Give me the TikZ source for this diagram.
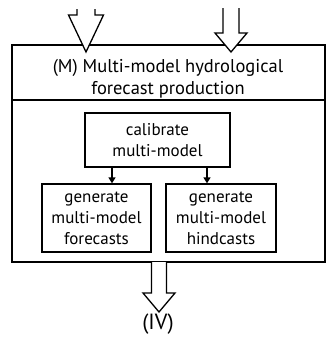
\documentclass[tikz,border=0pt]{standalone}
\usepackage{fontspec}
\setmainfont{PT Sans}
\usepackage{tikz}
\usetikzlibrary{arrows.meta}

\begin{document}
\begin{tikzpicture}[x=1pt, y=-1pt,
        outerbox/.style={draw, line width=1.6pt, minimum width=313pt, inner sep=0pt},
        box/.style={draw, line width=1.3pt, align=center, inner sep=0pt, font=\fontsize{17}{21}\selectfont},
        label/.style={align=center, inner sep=0pt, font=\fontsize{18.5}{22}\selectfont},
        arrow/.style={-{Triangle[width=7pt,length=6pt]}, line width=1.3pt},
        blockarrow/.style={draw, line width=1.3pt, fill=white, line join=miter}
    ]
    \useasboundingbox (0,0) rectangle (326,338);
    % Cajas
    \node[outerbox, minimum height=55pt] (mhead) at (168.5,72.5) {};
    \node[outerbox, minimum height=162pt] (mbody) at (168.5,181) {};
    \node[label] (mtitle) at (168,79) {(M) Multi-model hydrological \\ forecast production};
    \node[box, minimum width=145pt, minimum height=54pt] (calibrate) at (157.5,140) {calibrate \\ multi-model};
    \node[box, minimum width=109pt, minimum height=68pt] (forecasts) at (96.5,218) {generate \\ multi-model \\ forecasts};
    \node[box, minimum width=110pt, minimum height=68pt] (hindcasts) at (221,218) {generate \\ multi-model \\ hindcasts};
    \node[label, font=\fontsize{22}{24}\selectfont] (out) at (158,324) {(IV)};
    % Flechas
    \draw[arrow] ([xshift=-45.5pt]calibrate.south) -- ([xshift=-45.5pt]calibrate.south |- forecasts.north);
    \draw[arrow] ([xshift=49.5pt]calibrate.south) -- ([xshift=49.5pt]calibrate.south |- hindcasts.north);
    % Flechas de bloque
    \draw[blockarrow] (77,9) -- (77,15) -- (68.5,15) -- (86,52) -- (103.5,15) -- (95,15) -- (95,9);
    \draw[blockarrow] (223,8) -- (223,33) -- (215,33) -- (231,52) -- (247,33) -- (239,33) -- (239,8);
    \draw[blockarrow] ([xshift=-17pt,yshift=0.8pt]mbody.south) -- (151.5,293) -- (143,293) -- (159,312) -- (175,293) -- (166.5,293) -- ([xshift=-2pt,yshift=0.8pt]mbody.south);
\end{tikzpicture}
\end{document}
